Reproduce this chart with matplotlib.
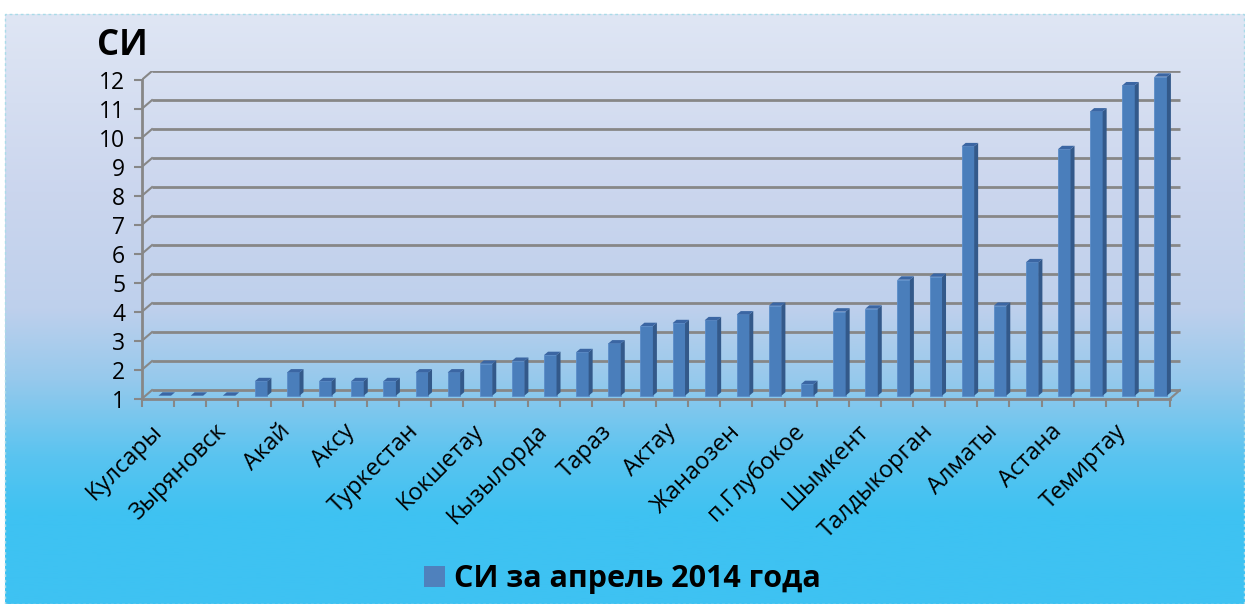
import numpy as np
import matplotlib
matplotlib.use("Agg")
import matplotlib.pyplot as plt
from matplotlib.patches import Patch, Rectangle

plt.rcParams['font.family'] = ['Open Sans', 'DejaVu Sans']

# data
cities = ['Кулсары', '', 'Зыряновск', '', 'Акай', '', 'Аксу', '', 'Туркестан', '',
          'Кокшетау', '', 'Кызылорда', '', 'Тараз', '', 'Актау', '', 'Жанаозен', '',
          'п.Глубокое', '', 'Шымкент', '', 'Талдыкорган', '', 'Алматы', '', 'Астана', '',
          'Темиртау', '']
si_values = [1.0, 1.0, 1.0, 1.5, 1.8, 1.5, 1.5, 1.5, 1.8, 1.8,
             2.1, 2.2, 2.4, 2.5, 2.8, 3.4, 3.5, 3.6, 3.8, 4.1,
             1.4, 3.9, 4.0, 5.0, 5.1, 9.6, 4.1, 5.6, 9.5, 10.8,
             11.7, 12.0]
y_ticks = list(range(1, 13))
legend_label = 'СИ за апрель 2014 года'
y_title = 'СИ'

W, H = 1245, 604
fig = plt.figure(figsize=(W / 100, H / 100), dpi=100)
fig.patch.set_facecolor('white')

# background gradient
bg = fig.add_axes([5 / W, 0, 1 - 5 / W, 1 - 14 / H])
grad = np.linspace(0, 1, 256)[:, None]
cols = np.array([[223, 230, 244], [203, 214, 238], [190, 208, 236],
                 [150, 201, 236], [90, 196, 240], [62, 194, 242], [62, 194, 242]]) / 255
stops = np.array([0, 0.3, 0.5, 0.62, 0.75, 0.85, 1.0])
img = np.stack([np.interp(grad[:, 0], stops, cols[:, c]) for c in range(3)], axis=-1)[:, None, :]
bg.imshow(img, aspect='auto', extent=[0, 1, 0, 1])
bg.set_axis_off()
fig.patches.append(Rectangle((5 / W, 0), 1 - 5 / W - 1 / W, 1 - 14 / H, transform=fig.transFigure,
                             fill=False, edgecolor='#a9dbe8', linestyle=(0, (2, 2)), lw=1))

# main axes: front plane in data coords
x0, x1 = 142, 1181
yb, yt = 398.7, 71
ax = fig.add_axes([x0 / W, (H - yb) / H, (x1 - x0) / W, (yb - yt) / H])
ax.patch.set_alpha(0)
n = len(si_values)
px_per_cat = (1170 - x0) / n
px_per_unit = 29.0
ax.set_xlim(-0.5, -0.5 + (x1 - x0) / px_per_cat)
ax.set_ylim(1, 1 + (yb - yt) / px_per_unit)
DX = 10 / px_per_cat
DY = 8.6 / px_per_unit
grid_c = '#878787'

# back wall gridlines and left-wall connectors
for v in y_ticks:
    ax.plot([-0.5 + DX, n - 0.5 + DX], [v + DY, v + DY], color=grid_c, lw=2.0,
            solid_capstyle='butt', zorder=1)
    ax.plot([-0.5, -0.5 + DX], [v, v + DY], color=grid_c, lw=1.5, zorder=1)
ax.plot([n - 0.5, n - 0.5 + DX], [1, 1 + DY], color=grid_c, lw=1.5, zorder=1)

# bars with a bit of depth
f = 0.35
bw = 12.5 / px_per_cat
sx, sy = 4 / px_per_cat, 3.4 / px_per_unit
xs = np.arange(n) + f * DX + 0.1
base = 1 + f * DY
for xi, v in zip(xs, si_values):
    left, right, top = xi - bw / 2, xi + bw / 2, v + f * DY
    if v > 1:
        ax.bar(xi, top - base, bottom=base, width=bw, color='#4a7ebb',
               edgecolor='#5b8dc9', lw=0.6, zorder=3)
        ax.fill([right, right + sx, right + sx, right], [base, base + sy, top + sy, top],
                color='#33598a', zorder=3, lw=0)
    ax.fill([left, right, right + sx, left + sx], [top, top, top + sy, top + sy],
            color='#3b66a3', zorder=3, lw=0)

# axes lines
for s in ['top', 'right']:
    ax.spines[s].set_visible(False)
ax.spines['left'].set_bounds(1, 12)
ax.spines['bottom'].set_bounds(-0.5, n - 0.5)
for s in ['left', 'bottom']:
    ax.spines[s].set_color(grid_c)
    ax.spines[s].set_linewidth(2.0)

ax.set_yticks(y_ticks)
ax.tick_params(axis='y', length=6, width=1.5, color=grid_c, labelsize=16.5, pad=6)
ax.set_xticks(np.arange(n + 1) - 0.5)
ax.set_xticklabels([])
ax.tick_params(axis='x', which='major', length=6, width=1.5, color=grid_c)
ax.set_xticks(np.arange(n) - 0.25, minor=True)
ax.set_xticklabels(cities, minor=True, rotation=45, ha='right', va='top',
                   rotation_mode='anchor', fontsize=17)
ax.tick_params(axis='x', which='minor', length=0, pad=15)

fig.text(97 / W, 1 - 28 / H, y_title, fontsize=25, fontweight='bold', va='top', ha='left')

fig.legend(handles=[Patch(facecolor='#4f81bd', label=legend_label)], loc='center',
           bbox_to_anchor=(0.5, 1 - 579 / H), frameon=False,
           prop={'size': 22, 'weight': 'bold'}, handlelength=0.7, handleheight=0.7,
           handletextpad=0.3)

fig.savefig('out.png', dpi=100)
